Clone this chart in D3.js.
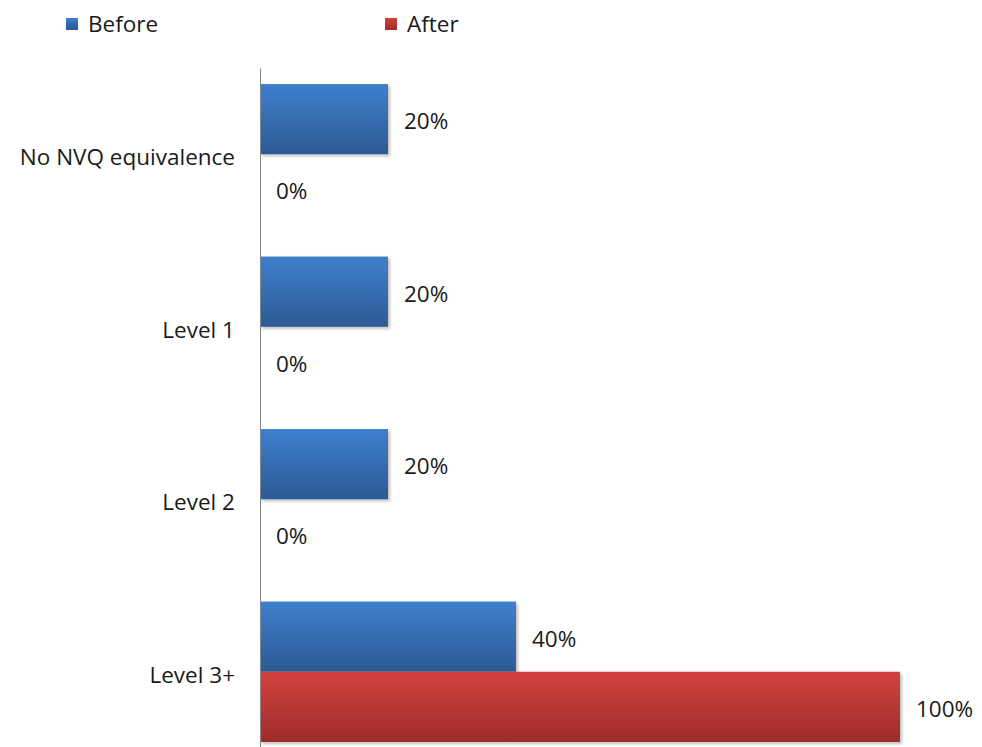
<!DOCTYPE html>
<html><head><meta charset="utf-8">
<script src="https://cdn.jsdelivr.net/npm/d3@7"></script>
<style>body{margin:0;background:#fff;} svg{display:block;}</style>
</head><body>
<script>
const categories = ["No NVQ equivalence", "Level 1", "Level 2", "Level 3+"];
const seriesNames = ["Before", "After"];
const beforeValues = [20, 20, 20, 40];
const afterValues = [0, 0, 0, 100];
const seriesColors = {Before: ["#3f7fcc", "#2c5a94"], After: ["#d2423e", "#9e2c2a"]};

const W = 982, H = 747;
const svg = d3.select("body").append("svg").attr("width", W).attr("height", H);
const defs = svg.append("defs");
seriesNames.forEach(s => {
  const g = defs.append("linearGradient").attr("id", "g" + s).attr("x1", 0).attr("y1", 0).attr("x2", 0).attr("y2", 1);
  g.append("stop").attr("offset", "0%").attr("stop-color", seriesColors[s][0]);
  g.append("stop").attr("offset", "100%").attr("stop-color", seriesColors[s][1]);
});
const f = defs.append("filter").attr("id", "sh").attr("x", "-5%").attr("y", "-10%").attr("width", "115%").attr("height", "130%");
f.append("feDropShadow").attr("dx", 2).attr("dy", 2).attr("stdDeviation", 1.5).attr("flood-color", "#000").attr("flood-opacity", 0.25);

const x0 = 260;
const x = d3.scaleLinear().domain([0, 100]).range([x0, 900]);
const y = d3.scaleBand().domain(categories).range([68, 758]).paddingInner(32/172).paddingOuter(16/172);
const ySub = d3.scaleBand().domain(seriesNames).range([0, y.bandwidth()]);
const font = "'Open Sans', sans-serif";
const fs = 22.5;

const data = [];
categories.forEach((c, i) => {
  data.push({c, s: "Before", v: beforeValues[i]});
  data.push({c, s: "After", v: afterValues[i]});
});

svg.append("g").selectAll("rect").data(data.filter(d => d.v > 0)).join("rect")
  .attr("x", x(0)).attr("y", d => y(d.c) + ySub(d.s))
  .attr("width", d => x(d.v) - x(0)).attr("height", ySub.bandwidth())
  .attr("fill", d => "url(#g" + d.s + ")").attr("filter", "url(#sh)");

svg.append("g").selectAll("text").data(data).join("text")
  .attr("x", d => x(d.v) + 16).attr("y", d => y(d.c) + ySub(d.s) + ySub.bandwidth() / 2 + 2)
  .attr("dy", "0.35em").attr("font-family", font).attr("font-size", fs).attr("fill", "#1a1a1a")
  .text(d => d.v + "%");

// axis
const ax = svg.append("g").attr("transform", `translate(${x0},0)`)
  .call(d3.axisLeft(y).tickSize(0).tickPadding(25));
ax.select(".domain").attr("stroke", "#888").attr("stroke-width", 1);
ax.selectAll("text").attr("font-family", font).attr("font-size", fs).attr("fill", "#1a1a1a")
  .attr("dy", "0.48em");

// legend
const lx = [66, 385];
seriesNames.forEach((s, i) => {
  const g = svg.append("g").attr("transform", `translate(${lx[i]},18)`);
  g.append("rect").attr("width", 12).attr("height", 12).attr("fill", "url(#g" + s + ")");
  g.append("text").attr("x", 22).attr("y", 6).attr("dy", "0.35em").attr("font-family", font)
    .attr("font-size", fs).attr("fill", "#1a1a1a").text(s);
});
</script>
</body></html>
